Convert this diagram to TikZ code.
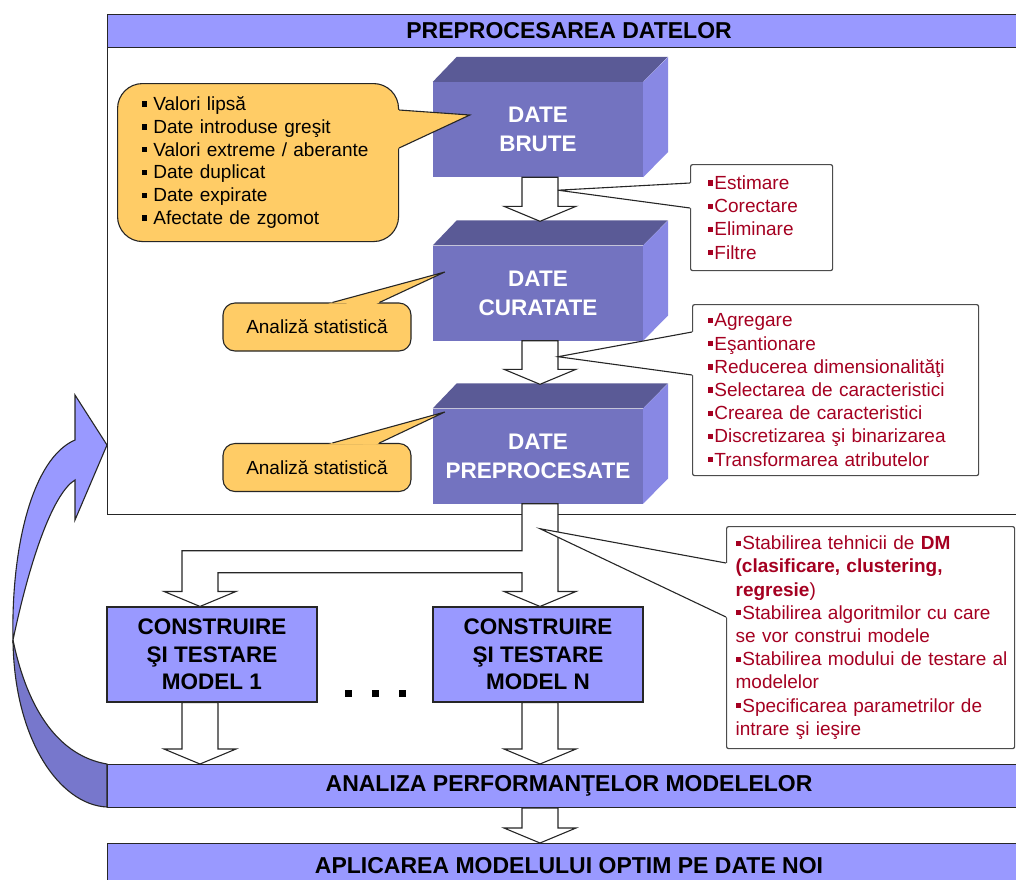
\documentclass[tikz,border=0pt]{standalone}
\usepackage{fontspec}
\setmainfont{Liberation Sans}
\usetikzlibrary{calc}
\definecolor{movdeschis}{RGB}{153,153,255}
\definecolor{movfata}{RGB}{115,115,192}
\definecolor{movsus}{RGB}{90,90,150}
\definecolor{movlateral}{RGB}{136,136,228}
\definecolor{movinchis}{RGB}{119,119,204}
\definecolor{portocaliu}{RGB}{255,204,102}
\definecolor{grena}{RGB}{165,0,33}

\newcommand{\patrat}{\rule[0.2em]{0.28em}{0.28em}}
\newcommand{\itm}{\patrat\hspace{1.5pt}}
% sageata bloc: de la marginea de jos a lui #1 pana la varful #2
\newcommand{\sageata}[2]{%
  \draw[blocsageata] let \p1=(#1), \p2=(#2) in
    (\x2-18pt,\y1) -- (\x2-18pt,\y2+15pt) -- (\x2-36pt,\y2+15pt) -- (\x2,\y2)
    -- (\x2+36pt,\y2+15pt) -- (\x2+18pt,\y2+15pt) -- (\x2+18pt,\y1) -- cycle;}
% coada unei casete: baza #2--#4, varf #3
\newcommand{\coada}[4]{%
  \fill[#1] ($(#2)!-4pt!(#3)$) -- (#3) -- ($(#4)!-4pt!(#3)$) -- cycle;
  \draw[contur] (#2) -- (#3) -- (#4);}

\begin{document}
\begin{tikzpicture}[
    x=1pt, y=-1pt,
    contur/.style={draw=black!85, line width=1.1pt},
    bara/.style={contur, fill=movdeschis, minimum width=923pt, inner sep=0pt,
                 font=\fontsize{23}{27}\selectfont\bfseries},
    fata/.style={fill=movfata, minimum width=210pt, minimum height=95pt, inner sep=0pt,
                 align=center, text=white, font=\fontsize{22.5}{29}\selectfont\bfseries},
    model/.style={contur, fill=movdeschis, minimum width=210pt, minimum height=95pt,
                  inner sep=0pt, align=center, font=\fontsize{22.5}{27.5}\selectfont\bfseries},
    nor/.style={contur, fill=portocaliu, rounded corners=12pt, align=left,
                font=\fontsize{19}{22.8}\selectfont},
    caseta/.style={draw=black!70, line width=1.2pt, fill=white, rounded corners=2pt,
                   align=left, text=grena, anchor=north west,
                   font=\fontsize{19}{23.2}\selectfont},
    blocsageata/.style={contur, fill=white, line join=miter}
  ]
  \useasboundingbox (0,0) rectangle (1016,879);

  % cadrul preprocesarii
  \node[contur, fill=white, minimum width=923pt, minimum height=500pt, inner sep=0pt,
        anchor=north west] (cadru) at (107,14) {};
  \node[bara, minimum height=33pt, anchor=north west] (antet) at (107,14) {PREPROCESAREA DATELOR};

  % cutiile 3D
  \node[fata] (brute) at (538,129.5) {DATE\\BRUTE};
  \node[fata] (curat) at (538,293) {DATE\\CURATATE};
  \node[fata] (prep) at (538,456) {DATE\\PREPROCESATE};
  \foreach \cut in {brute,curat,prep} {
    \fill[movsus] (\cut.north west) -- ++(24,-25) -- ++(211,0) -- (\cut.north east) -- cycle;
    \fill[movlateral] (\cut.north east) -- ++(25,-25) -- ++(0,95) -- (\cut.south east) -- cycle;
  }
  \sageata{brute.south}{$(curat.north)+(2,-24)$}
  \sageata{curat.south}{$(prep.north)+(2,-24)$}

  % modelele
  \node[model] (m1) at (212,654.5) {CONSTRUIRE\\ŞI TESTARE\\MODEL 1};
  \node[model] (mN) at (538,654.5) {CONSTRUIRE\\ŞI TESTARE\\MODEL N};
  \node[inner sep=0pt] (puncte) at (375,693)
    {\rule{7pt}{7pt}\hspace{20pt}\rule{7pt}{7pt}\hspace{20pt}\rule{7pt}{7pt}};
  \coordinate (t1) at ($(m1.north)+(-12,0)$);
  \coordinate (tN) at ($(mN.north)+(2,0)$);
  \draw[blocsageata] let \p1=(prep.south), \p2=(t1), \p3=(tN) in
    (\x3-18pt,\y1) -- (\x3-18pt,\y1-47pt) -- (\x2-18pt,\y1-47pt) -- (\x2-18pt,\y2+15pt)
    -- (\x2-36pt,\y2+15pt) -- (\x2,\y2) -- (\x2+36pt,\y2+15pt) -- (\x2+18pt,\y2+15pt)
    -- (\x2+18pt,\y1-69pt) -- (\x3-18pt,\y1-69pt) -- (\x3-18pt,\y3+15pt)
    -- (\x3-36pt,\y3+15pt) -- (\x3,\y3) -- (\x3+36pt,\y3+15pt) -- (\x3+18pt,\y3+15pt)
    -- (\x3+18pt,\y1) -- cycle;

  \node[bara, minimum height=43pt, anchor=north west] (analiza) at (107,764) {ANALIZA PERFORMANŢELOR MODELELOR};
  \node[bara, minimum height=44pt, anchor=north west] (aplicare) at (107,843) {APLICAREA MODELULUI OPTIM PE DATE NOI};
  \sageata{m1.south}{$(t1 |- analiza.north)$}
  \sageata{mN.south}{$(tN |- analiza.north)$}
  \sageata{analiza.south}{$(tN |- aplicare.north)$}

  % casetele cu operatii
  \node[caseta, text width=108pt, inner xsep=17pt, minimum height=106pt] (corectii) at (690,164)
    {\itm Estimare\\\itm Corectare\\\itm Eliminare\\\itm Filtre};
  \node[caseta, text width=256pt, inner xsep=15pt, minimum height=171pt] (transformari) at (692,304)
    {\itm Agregare\\\itm Eşantionare\\\itm Reducerea dimensionalităţi\\\itm Selectarea de caracteristici\\
     \itm Crearea de caracteristici\\\itm Discretizarea şi binarizarea\\\itm Transformarea atributelor};
  \node[caseta, text width=270pt, inner xsep=9pt, minimum height=222pt] (metode) at (726,526)
    {\itm Stabilirea tehnicii de \textbf{DM}\\
     \textbf{(clasificare, clustering,}\\
     \textbf{regresie})\\
     \itm Stabilirea algoritmilor cu care\\
     se vor construi modele\\
     \mbox{\itm Stabilirea modului de testare al}\\
     modelelor\\
     \itm Specificarea parametrilor de\\
     intrare şi ieşire};
  \coordinate (ca1) at ($(corectii.north west)+(0,19)$);
  \coordinate (ca2) at ($(corectii.north west)+(0,44)$);
  \coordinate (cav) at ($(brute.south)+(20,13)$);
  \coada{white}{ca1}{cav}{ca2}
  \coordinate (cb1) at ($(transformari.north west)+(0,28)$);
  \coordinate (cb2) at ($(transformari.north west)+(0,71)$);
  \coordinate (cbv) at ($(curat.south)+(20,16)$);
  \coada{white}{cb1}{cbv}{cb2}
  \coordinate (cc1) at ($(metode.north west)+(0,37)$);
  \coordinate (cc2) at ($(metode.north west)+(0,91)$);
  \coordinate (ccv) at ($(prep.south)+(2,25)$);
  \coada{white}{cc1}{ccv}{cc2}

  % baloanele portocalii
  \node[nor, rounded corners=25pt, text width=232pt, inner xsep=24.5pt, minimum height=158pt,
        anchor=north west] (probleme) at (117,83)
    {\patrat\hspace{6pt}Valori lipsă\\
     \patrat\hspace{6pt}Date introduse greşit\\
     \patrat\hspace{6pt}Valori extreme / aberante\\
     \patrat\hspace{6pt}Date duplicat\\
     \patrat\hspace{6pt}Date expirate\\
     \patrat\hspace{6pt}Afectate de zgomot};
  \coordinate (pa1) at ($(probleme.north east)+(0,27)$);
  \coordinate (pa2) at ($(probleme.north east)+(0,65)$);
  \coordinate (pav) at ($(brute.west)+(37,-14.5)$);
  \coada{portocaliu}{pa1}{pav}{pa2}
  \node[nor, minimum width=188pt, minimum height=48pt, inner sep=0pt] (stat1) at (317,327) {Analiză statistică};
  \node[nor, minimum width=188pt, minimum height=48pt, inner sep=0pt] (stat2) at (317,467.5) {Analiză statistică};
  \coordinate (sa1) at ($(stat1.north west)+(110,0)$);
  \coordinate (sa2) at ($(stat1.north west)+(157,0)$);
  \coordinate (sav) at ($(curat.west)+(12,-21)$);
  \coada{portocaliu}{sa1}{sav}{sa2}
  \coordinate (sb1) at ($(stat2.north west)+(110,0)$);
  \coordinate (sb2) at ($(stat2.north west)+(157,0)$);
  \coordinate (sbv) at ($(prep.west)+(12,-44)$);
  \coada{portocaliu}{sb1}{sbv}{sb2}

  % sageata curba de intoarcere
  \filldraw[contur, fill=movinchis] (13,640) .. controls (14,740) and (60,805) .. (107,807)
    -- (107,764) .. controls (60,756) and (28,712) .. (13,640) -- cycle;
  \filldraw[contur, fill=movdeschis] (107,445) -- (75,395) -- (75,440)
    .. controls (33,458) and (11,545) .. (13,640)
    .. controls (32,550) and (55,492) .. (75,480) -- (75,520) -- cycle;
\end{tikzpicture}
\end{document}
